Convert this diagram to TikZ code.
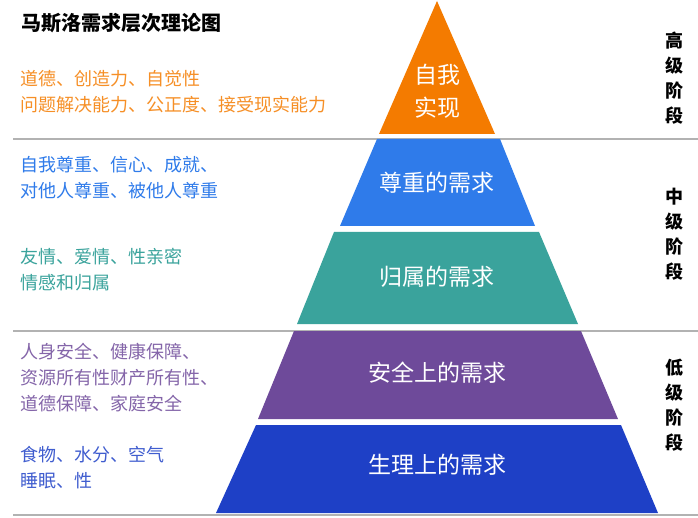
\documentclass[tikz,border=0pt]{standalone}
\usepackage{fontspec}
\setmainfont{Noto Sans CJK SC}
\newfontfamily\cjkbold[BoldFont={Noto Sans CJK SC Bold}]{Noto Sans CJK SC}
\definecolor{selfc}{HTML}{F47B00}
\definecolor{esteemc}{HTML}{2F7BEA}
\definecolor{lovec}{HTML}{3AA39C}
\definecolor{safec}{HTML}{6E4A9A}
\definecolor{bodyc}{HTML}{1E40C6}
\tikzset{
  layer/.style={white,font=\fontsize{23}{26}\selectfont},
  need/.style={anchor=west,align=left,font=\fontsize{18}{26}\selectfont},
  stage/.style={align=center,font=\bfseries\fontsize{18}{25}\selectfont},
  divide/.style={draw=gray!60,line width=1.5pt}
}
\begin{document}
\begin{tikzpicture}[x=1pt,y=-1pt]
	\useasboundingbox[fill=white] (0,0) rectangle (698,518);
	%separators
	\draw[divide] (13,139)--(698,139);
	\draw[divide] (13,331)--(698,331);
	\draw[divide] (13,515)--(698,515);
	
	%pyramid
	\fill[selfc]   (437,1)--(495,134)--(379,134)--cycle;
	\fill[esteemc] (377,139)--(500,139)--(535,226)--(340,226)--cycle;
	\fill[lovec]   (334,232)--(539,232)--(578,324)--(297,324)--cycle;
	\fill[safec]   (294,331)--(581,331)--(618,419)--(258,419)--cycle;
	\fill[bodyc]   (256,425)--(621,425)--(658,513)--(216,513)--cycle;
	\node[layer,align=center,font=\fontsize{23}{33}\selectfont] (self) at (437,91) {自我\\实现};
	\node[layer] (esteem) at (437,183) {尊重的需求};
	\node[layer] (love)   at (437,277) {归属的需求};
	\node[layer] (safe)   at (437,373) {安全上的需求};
	\node[layer] (body)   at (437,465) {生理上的需求};
	
	%title
	\node[anchor=west,font=\bfseries\fontsize{20}{24}\selectfont] (title) at (18,23) {马斯洛需求层次理论图};
	
	%needs
	\node[need,text=selfc!85!white]   (selftxt)   at (17,92)  {道德、创造力、自觉性\\问题解决能力、公正度、接受现实能力};
	\node[need,text=esteemc]          (esteemtxt) at (17,178) {自我尊重、信心、成就、\\对他人尊重、被他人尊重};
	\node[need,text=lovec]            (lovetxt)   at (17,270) {友情、爱情、性亲密\\情感和归属};
	\node[need,text=safec!85!white]   (safetxt)   at (17,378) {人身安全、健康保障、\\资源所有性财产所有性、\\道德保障、家庭安全};
	\node[need,text=bodyc!85!white]   (bodytxt)   at (17,468) {食物、水分、空气\\睡眠、性};
	
	%stages
	\node[stage] (high) at (674,78)  {高\\级\\阶\\段};
	\node[stage] (mid)  at (674,234) {中\\级\\阶\\段};
	\node[stage] (low)  at (674,405) {低\\级\\阶\\段};
\end{tikzpicture}
\end{document}
